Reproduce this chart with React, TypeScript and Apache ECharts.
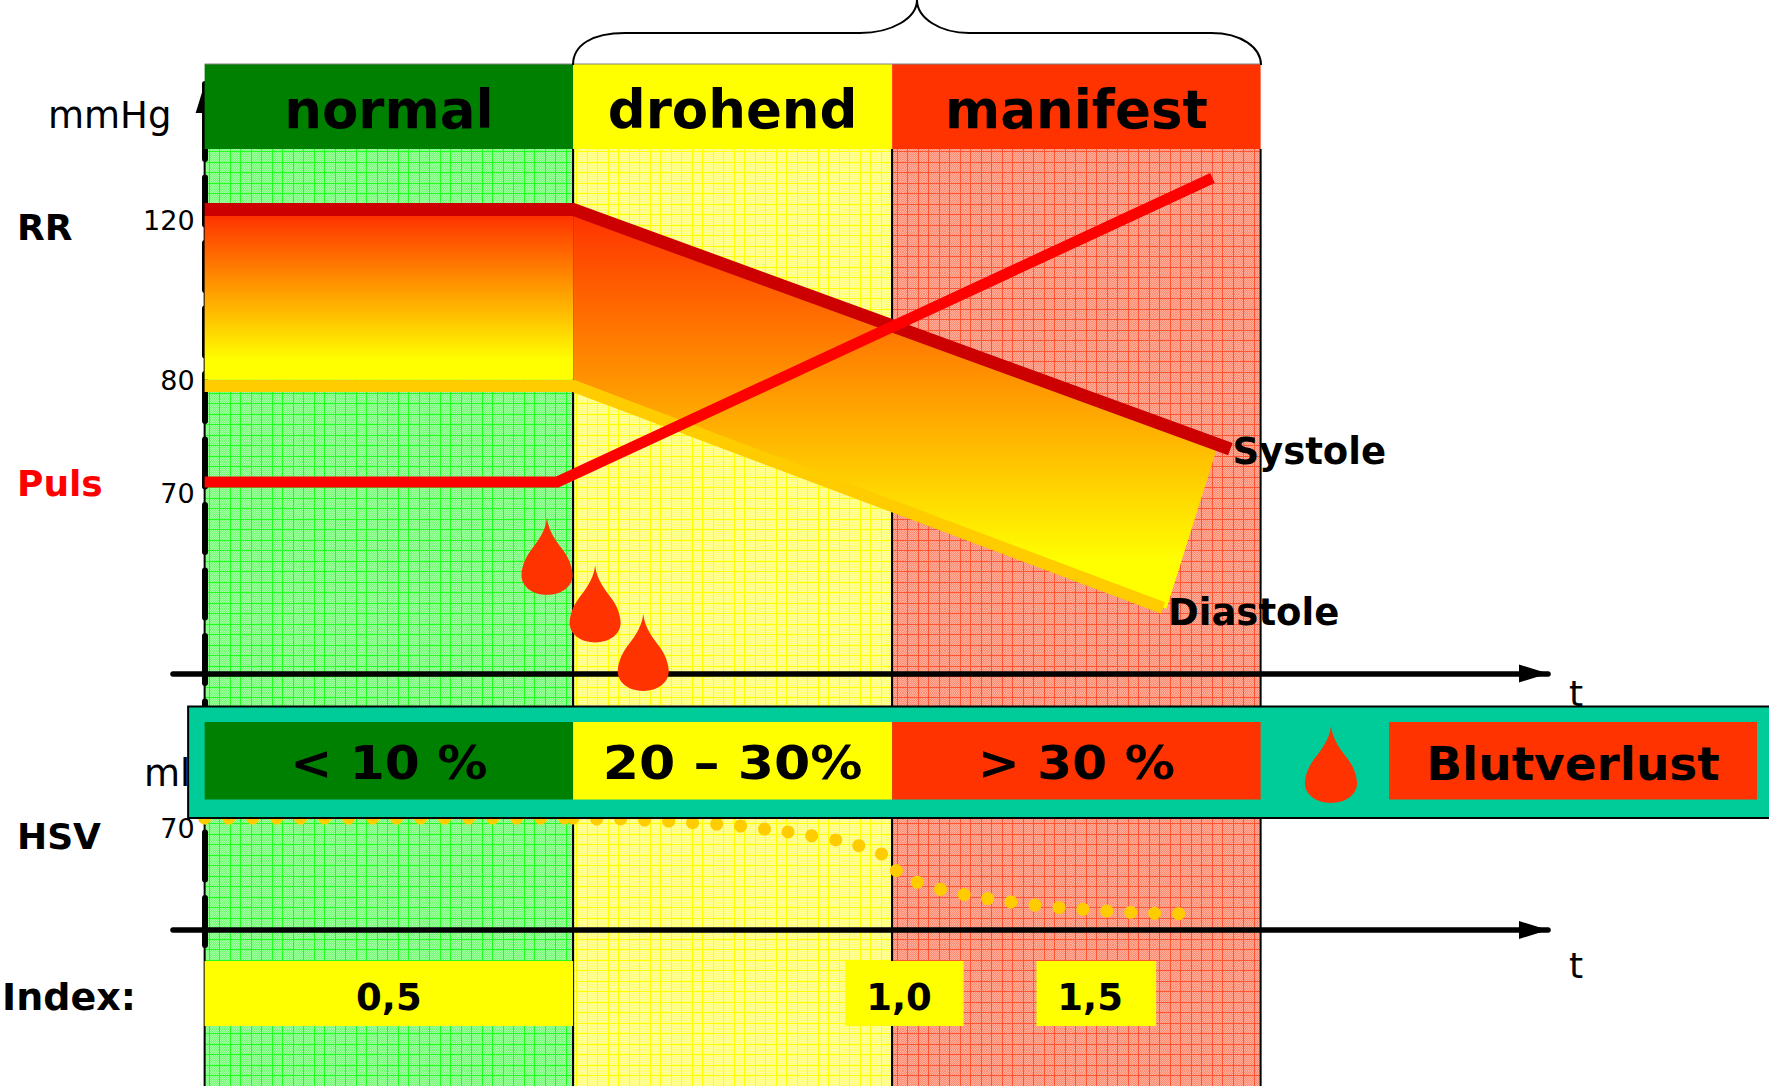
import React, { useEffect, useRef } from "react";
import * as echarts from "echarts";

// Blood pressure, pulse and stroke volume across the stages of haemorrhagic shock.
const stageNames = ["normal", "drohend", "manifest"];
const stageBounds = [0, 26.8, 50, 76.8];
const stageColors = ["#008000", "#ffff00", "#ff3300"];
const bloodLossLabels = ["< 10 %", "20 – 30%", "> 30 %"];
const indexLabels = ["0,5", "1,0", "1,5"];
const indexSpans = [[0, 26.8], [46.6, 55.2], [60.5, 69.2]];
const indexMarks = [13.4, 50.5, 64.4];

const rrTicks = [120, 80];
const pulseTicks = [70];
const hsvTicks = [70];

const systole = [[0, 120], [26.8, 120], [74.6, 65.7]];
const diastole = [[0, 80], [26.8, 80], [69.7, 29.7]];
const bandNormal = [[0, 118.5], [26.8, 118.5], [26.8, 81.4], [0, 81.4]];
const bandFalling = [[26.8, 118.5], [73.7, 66.6], [69.95, 29.5], [26.8, 81.4]];
const pulse = [[0, 70], [25.65, 70], [73.3, 114.9]];
const bleedingDrops = [[24.9, 41.4], [28.4, 30.6], [31.9, 19.6]];

const hsvTimes = [
  0, 1.75, 3.49, 5.24, 6.98, 8.73, 10.47, 12.22, 13.96, 15.71, 17.45, 19.2, 20.95, 22.69, 24.44, 26.18, 26.8,
  28.51, 30.25, 32, 33.75, 35.49, 37.24, 38.98, 40.72, 42.43, 44.15, 45.9, 47.58, 49.23, 50.31, 51.83, 53.52,
  55.24, 56.95, 58.65, 60.39, 62.14, 63.88, 65.61, 67.35, 69.09, 70.84,
];
const hsvVolumes = [
  70, 70, 70, 70, 70, 70, 70, 70, 70, 70, 70, 70, 70, 70, 70, 70, 70,
  69.4, 69.4, 68.75, 68.1, 67.1, 66.25, 65, 63.1, 61.25, 58.9, 56.25, 52.7, 47.5, 37.1, 29.8, 25.4,
  22.1, 19.6, 17.5, 15.6, 14, 12.9, 11.9, 11, 10.4, 10.2,
];

const FONT = '"DejaVu Sans"';
const DROP =
  "M50 0C53 30 72 50 86 70C95 84 100 100 100 113C100 135 78 151 50 151C22 151 0 135 0 113C0 100 5 84 14 70C28 50 47 30 50 0Z";
const BRACE =
  "M573 65C573 45 592 33 625 33L860 33C892 33 917 18 917 0C917 18 940 33 969 33L1211 33C1242 33 1261 48 1261 65";
echarts.graphic.registerShape("stageBrace", echarts.graphic.extendPath(BRACE, {}));

// A millimetre-paper tile: dithered ground with ruled lines every 10.5 px.
function paper(light: string, dark: string, rule: string, xRules: number[], yRules: number[]) {
  const size = 21;
  const c = document.createElement("canvas");
  c.width = size;
  c.height = size;
  const g = c.getContext("2d")!;
  for (let y = 0; y < size; y++) {
    for (let x = 0; x < size; x++) {
      g.fillStyle = (x + y) % 2 ? light : dark;
      g.fillRect(x, y, 1, 1);
    }
  }
  g.fillStyle = rule;
  xRules.forEach((x) => g.fillRect(x, 0, 1, size));
  yRules.forEach((y) => g.fillRect(0, y, size, 1));
  return { image: c, repeat: "repeat", imageWidth: size, imageHeight: size };
}

// The time scale starts a little left of t = 0, so the axes sit inside the plot.
const xRange = { type: "value", min: -2.3, max: 97.7 };
const SPINE_SHIFT = -31.6;
const hiddenX = (gridIndex: number) => ({
  ...xRange,
  gridIndex,
  show: false,
});
const timeAxis = (gridIndex: number, onZero: boolean) => ({
  ...xRange,
  gridIndex,
  z: 3,
  splitLine: { show: false },
  axisTick: { show: false },
  axisLabel: { show: false },
  axisLine: {
    show: true,
    onZero,
    symbol: ["none", "triangle"],
    symbolSize: [18, 29],
    symbolOffset: [0, -14.5],
    lineStyle: { color: "#000", width: 5.5 },
  },
});
const tickAxis = (gridIndex: number, min: number, max: number, ticks: number[], rich: string) => ({
  type: "value",
  gridIndex,
  min,
  max,
  position: "left",
  offset: SPINE_SHIFT,
  z: 2,
  splitLine: { show: false },
  axisTick: { show: false },
  axisLine: { show: false },
  axisLabel: {
    customValues: ticks,
    margin: 10,
    color: "#000",
    fontFamily: FONT,
    fontSize: 27,
    formatter: (v: number) => `{${v === 80 ? "up" : rich}|${v}}`,
    rich: {
      up: { fontFamily: FONT, fontSize: 27, color: "#000", padding: [0, 0, 10, 0] },
      down: { fontFamily: FONT, fontSize: 27, color: "#000", padding: [23, 0, 0, 0] },
      low: { fontFamily: FONT, fontSize: 27, color: "#000", padding: [20, 0, 0, 0] },
    },
  },
});

const sideText = (text: string, x: number, y: number, bold: boolean, fill = "#000", size = 36) => ({
  type: "text",
  x,
  y,
  z: 1,
  style: {
    text,
    fill,
    font: `${bold ? "bold " : ""}${size}px ${FONT}`,
    verticalAlign: "middle",
  },
});

function buildOption() {
  const papers = [
    paper("#a6ffa6", "#70ff70", "#20ff20", [9, 20], [4, 15]),
    paper("#ffffa6", "#ffff70", "#ffff00", [9, 20], [4, 15]),
    paper("#ffb09c", "#ff8a70", "#ff5533", [4, 15], [4, 15]),
  ];
  const zoneAxes = { xAxisIndex: 2, yAxisIndex: 3 };
  const cell = (api: any, top: number, bottom: number, fill: any) => {
    const a = api.coord([api.value(0), top]);
    const b = api.coord([api.value(1), bottom]);
    return { type: "rect", shape: { x: a[0], y: a[1], width: b[0] - a[0], height: b[1] - a[1] }, style: { fill } };
  };
  const captionAt = (api: any, t: number, mid: number, text: string, size: number, stretch = 1) => {
    const c = api.coord([t, mid]);
    return {
      type: "text",
      x: c[0],
      y: c[1],
      scaleX: stretch,
      style: {
        text,
        x: 0,
        y: 0,
        fill: "#000",
        font: `bold ${size}px ${FONT}`,
        align: "center",
        verticalAlign: "middle",
      },
    };
  };
  const caption = (api: any, mid: number, text: string, size: number, stretch = 1) =>
    captionAt(api, (api.value(0) + api.value(1)) / 2, mid, text, size, stretch);
  const stageSpans = stageNames.map((_, i) => [stageBounds[i], stageBounds[i + 1]]);
  const polygon = (points: number[][]) => ({
    type: "custom",
    xAxisIndex: 0,
    yAxisIndex: 0,
    z: 3,
    silent: true,
    data: [points[0]],
    renderItem: (_: any, api: any) => ({
      type: "polygon",
      shape: { points: points.map((p) => api.coord(p)) },
      style: {
        fill: new echarts.graphic.LinearGradient(0, 0, 0, 1, [
          { offset: 0, color: "#ff3300" },
          { offset: 0.88, color: "#ffff00" },
          { offset: 1, color: "#ffff00" },
        ]),
      },
    }),
  });
  const pressureLine = (name: string, data: number[][], color: string, width: number, labelOffset: number[]) => ({
    type: "line",
    name,
    data,
    xAxisIndex: 0,
    yAxisIndex: 0,
    z: 4,
    symbol: "none",
    silent: true,
    lineStyle: { color, width, join: "miter", cap: "butt" },
    endLabel: {
      show: true,
      formatter: name,
      color: "#000",
      fontFamily: FONT,
      fontWeight: "bold",
      fontSize: 37,
      distance: 3,
      offset: labelOffset,
    },
  });

  return {
    animation: false,
    backgroundColor: "#fff",
    grid: [
      { left: 173, width: 1375, top: 84, height: 589.5 },
      { left: 173, width: 1375, top: 818, height: 127 },
      { left: 173, width: 1375, top: 0, height: 1086 },
      { left: 173, width: 1375, top: 84, height: 861 },
    ],
    xAxis: [timeAxis(0, false), timeAxis(1, true), hiddenX(2), hiddenX(3)],
    yAxis: [
      tickAxis(0, 14.84, 148.44, rrTicks, "down"),
      tickAxis(0, 41.72, 128.8, pulseTicks, "down"),
      tickAxis(1, -9.4, 70, hsvTicks, "low"),
      { type: "value", gridIndex: 2, min: 0, max: 1086, inverse: true, show: false },
      {
        type: "value",
        gridIndex: 3,
        min: 0,
        max: 1,
        z: 1,
        splitLine: { show: false },
        axisTick: { show: false },
        axisLabel: { show: false },
        axisLine: {
          show: true,
          onZero: true,
          symbol: ["none", "triangle"],
          symbolSize: [18, 29],
          symbolOffset: [0, -14.5],
          lineStyle: { color: "#000", width: 6, type: [47, 18.5], dashOffset: 0 },
        },
      },
    ],
    series: [
      {
        // Stage backgrounds on millimetre paper, with their black borders.
        type: "custom",
        ...zoneAxes,
        z: 0,
        silent: true,
        data: stageSpans,
        renderItem: (p: any, api: any) => {
          const r = cell(api, 149, 1086, papers[p.dataIndex]);
          const x0 = api.coord([api.value(0), 0])[0];
          const x1 = api.coord([api.value(1), 0])[0];
          const rule = (x: number) => ({
            type: "line",
            shape: { x1: x, y1: 149, x2: x, y2: 1086 },
            style: { stroke: "#000", lineWidth: 2 },
          });
          return { type: "group", children: [r, rule(x0), rule(x1)] };
        },
      },
      {
        // Shock index cells.
        type: "custom",
        ...zoneAxes,
        z: 1,
        silent: true,
        data: indexSpans,
        renderItem: (p: any, api: any) => ({
          type: "group",
          children: [
            cell(api, 961, 1026, "#ffff00"),
            captionAt(api, indexMarks[p.dataIndex], 997, indexLabels[p.dataIndex], 37),
          ],
        }),
      },
      polygon(bandNormal),
      polygon(bandFalling),
      pressureLine("Diastole", diastole, "#ffcc00", 12, [2, 4.5]),
      pressureLine("Systole", systole, "#cc0000", 13, [-1, 2.5]),
      {
        type: "line",
        name: "Puls",
        data: pulse,
        xAxisIndex: 0,
        yAxisIndex: 1,
        z: 5,
        symbol: "none",
        silent: true,
        lineStyle: { color: "#ff0000", width: 11, join: "miter", cap: "butt" },
      },
      {
        type: "scatter",
        name: "Blutverlust",
        data: bleedingDrops,
        xAxisIndex: 0,
        yAxisIndex: 0,
        z: 6,
        symbol: `path://${DROP}`,
        symbolSize: [51, 77],
        silent: true,
        itemStyle: { color: "#ff3300", opacity: 1 },
      },
      {
        type: "scatter",
        name: "HSV",
        data: hsvTimes.map((t, i) => [t, hsvVolumes[i]]),
        xAxisIndex: 1,
        yAxisIndex: 2,
        z: 6,
        symbol: "circle",
        symbolSize: 13,
        silent: true,
        clip: false,
        itemStyle: { color: "#ffcc00", opacity: 1 },
      },
      {
        // Stage headline row.
        type: "custom",
        ...zoneAxes,
        z: 20,
        silent: true,
        data: stageSpans,
        renderItem: (p: any, api: any) => ({
          type: "group",
          children: [
            cell(api, 64, 149, stageColors[p.dataIndex]),
            {
              type: "line",
              shape: {
                x1: api.coord([api.value(0), 0])[0],
                y1: 64,
                x2: api.coord([api.value(1), 0])[0],
                y2: 64,
              },
              style: { stroke: "#808080", lineWidth: 1 },
            },
            caption(api, 109, stageNames[p.dataIndex], 53),
          ],
        }),
      },
      {
        // Blood-loss strip: teal ground first, coloured cells on top.
        type: "custom",
        ...zoneAxes,
        z: 20,
        silent: true,
        data: [[-1.2, 120]],
        renderItem: (_: any, api: any) => {
          const a = api.coord([api.value(0), 706.5]);
          const b = api.coord([api.value(1), 818]);
          return {
            type: "group",
            children: [
              {
                type: "rect",
                shape: { x: a[0], y: a[1], width: b[0] - a[0], height: b[1] - a[1] },
                style: { fill: "#00cc99", stroke: "#000", lineWidth: 2 },
              },
              {
                type: "path",
                shape: { pathData: DROP, layout: "cover", x: 1305, y: 726, width: 52, height: 77 },
                style: { fill: "#ff3300" },
              },
            ],
          };
        },
      },
      {
        type: "custom",
        ...zoneAxes,
        z: 21,
        silent: true,
        data: stageSpans,
        renderItem: (p: any, api: any) => ({
          type: "group",
          children: [
            cell(api, 722, 799.5, stageColors[p.dataIndex]),
            caption(api, 763, bloodLossLabels[p.dataIndex], 47, p.dataIndex === 1 ? 1.11 : 1.07),
          ],
        }),
      },
      {
        type: "custom",
        ...zoneAxes,
        z: 21,
        silent: true,
        data: [[86.14, 112.9]],
        renderItem: (_: any, api: any) => ({
          type: "group",
          children: [cell(api, 722, 799.5, "#ff3300"), caption(api, 763, "Blutverlust", 47)],
        }),
      },
    ],
    graphic: [
      { type: "stageBrace", x: 0, y: 0, z: 30, style: { fill: "none", stroke: "#000", lineWidth: 2 } },
      sideText("mmHg", 48, 115, false, "#000", 37),
      sideText("RR", 17, 227, true),
      sideText("Puls", 17, 483, true, "#ff0000"),
      sideText("ml", 144, 773, false, "#000", 37),
      sideText("HSV", 17, 836, true),
      sideText("Index:", 2, 997, true, "#000", 38),
      sideText("t", 1569, 693, false),
      sideText("t", 1569, 965, false),
    ],
  };
}

export default function App() {
  const ref = useRef<HTMLDivElement>(null);
  useEffect(() => {
    document.body.style.margin = "0";
    const chart = echarts.init(ref.current!, undefined, { renderer: "svg" });
    chart.setOption(buildOption() as any);
    return () => chart.dispose();
  }, []);
  return <div ref={ref} style={{ width: 1769, height: 1086 }} />;
}
